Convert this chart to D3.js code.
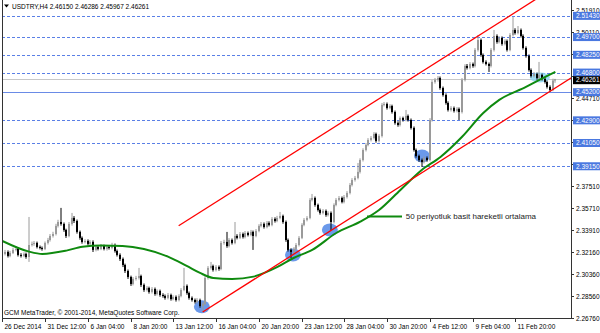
<!DOCTYPE html>
<html>
<head>
<meta charset="utf-8">
<script src="https://cdn.jsdelivr.net/npm/d3@7"></script>
<style>
body { margin: 0; background: #fff; }
svg { display: block; font-family: "Liberation Sans", Arial, sans-serif; }
</style>
</head>
<body>
<div id="chart"></div>
<script>
// USDTRY H4 candles (one bar = 4 hours)
var opens = [
  2.3207, 2.3199, 2.3215, 2.3183, 2.3207, 2.3232, 2.3240, 2.3191, 2.3183, 2.3199,
  2.3174, 2.3272, 2.3281, 2.3289, 2.3256, 2.3248, 2.3240, 2.3289, 2.3313, 2.3346,
  2.3362, 2.3428, 2.3460, 2.3444, 2.3395, 2.3346, 2.3444, 2.3493, 2.3468, 2.3379,
  2.3330, 2.3297, 2.3305, 2.3281, 2.3297, 2.3232, 2.3256, 2.3240, 2.3264, 2.3240,
  2.3256, 2.3248, 2.3272, 2.3223, 2.3191, 2.3158, 2.3109, 2.3060, 2.3011, 2.2954,
  2.2995, 2.3003, 2.3019, 2.2946, 2.2905, 2.2921, 2.2889, 2.2913, 2.2872, 2.2897,
  2.2864, 2.2856, 2.2840, 2.2864, 2.2831, 2.2848, 2.2823, 2.2856, 2.2905, 2.2938,
  2.2880, 2.2840, 2.2823, 2.2807, 2.2823, 2.2774, 2.2791, 2.3003, 2.3085, 2.3101,
  2.3068, 2.3093, 2.3076, 2.3289, 2.3297, 2.3264, 2.3313, 2.3289, 2.3346, 2.3330,
  2.3362, 2.3338, 2.3370, 2.3354, 2.3379, 2.3346, 2.3387, 2.3428, 2.3444, 2.3419,
  2.3452, 2.3436, 2.3485, 2.3468, 2.3493, 2.3509, 2.3460, 2.3313, 2.3232, 2.3215,
  2.3240, 2.3272, 2.3330, 2.3436, 2.3477, 2.3493, 2.3640, 2.3656, 2.3599, 2.3558,
  2.3534, 2.3550, 2.3517, 2.3534, 2.3460, 2.3599, 2.3640, 2.3656, 2.3624, 2.3664,
  2.3697, 2.3762, 2.3803, 2.3820, 2.3869, 2.3966, 2.4048, 2.4089, 2.4130, 2.4146,
  2.4179, 2.4122, 2.4162, 2.4416, 2.4424, 2.4391, 2.4407, 2.4358, 2.4269, 2.4252,
  2.4309, 2.4293, 2.4326, 2.4293, 2.4228, 2.4048, 2.3999, 2.3966, 2.3950, 2.3983,
  2.3966, 2.4293, 2.4603, 2.4620, 2.4636, 2.4554, 2.4497, 2.4432, 2.4375, 2.4391,
  2.4367, 2.4383, 2.4358, 2.4620, 2.4734, 2.4718, 2.4750, 2.4734, 2.4865, 2.4946,
  2.4824, 2.4767, 2.4750, 2.4734, 2.4865, 2.4979, 2.4930, 2.4963, 2.4914, 2.4938,
  2.4865, 2.4987, 2.5028, 2.5003, 2.5028, 2.4979, 2.4881, 2.4816, 2.4701, 2.4652,
  2.4669, 2.4636, 2.4661, 2.4628, 2.4603, 2.4563, 2.4538, 2.46150
];
var highs = [
  2.3225, 2.3232, 2.3228, 2.3224, 2.3250, 2.3262, 2.3251, 2.3205, 2.3212, 2.3210,
  2.3501, 2.3300, 2.3305, 2.3300, 2.3268, 2.3260, 2.3301, 2.3330, 2.3362, 2.3380,
  2.3445, 2.3478, 2.3575, 2.3456, 2.3405, 2.3460, 2.3534, 2.3508, 2.3480, 2.3390,
  2.3342, 2.3320, 2.3318, 2.3312, 2.3310, 2.3270, 2.3268, 2.3280, 2.3275, 2.3270,
  2.3268, 2.3290, 2.3284, 2.3235, 2.3204, 2.3170, 2.3120, 2.3072, 2.3022, 2.3010,
  2.3020, 2.3085, 2.3030, 2.2958, 2.2936, 2.2932, 2.2928, 2.2925, 2.2910, 2.2908,
  2.2878, 2.2868, 2.2880, 2.2875, 2.2862, 2.2860, 2.2870, 2.2920, 2.3085, 2.2950,
  2.2892, 2.2852, 2.2835, 2.2838, 2.2834, 2.2805, 2.3018, 2.3100, 2.3134, 2.3112,
  2.3108, 2.3105, 2.3305, 2.3315, 2.3379, 2.3328, 2.3325, 2.3460, 2.3360, 2.3378,
  2.3374, 2.3386, 2.3382, 2.3395, 2.3390, 2.3402, 2.3442, 2.3460, 2.3456, 2.3468,
  2.3465, 2.3500, 2.3498, 2.3510, 2.3542, 2.3520, 2.3472, 2.3325, 2.3245, 2.3255,
  2.3288, 2.3345, 2.3450, 2.3492, 2.3508, 2.3655, 2.3689, 2.3668, 2.3610, 2.3570,
  2.3565, 2.3562, 2.3548, 2.3546, 2.3612, 2.3655, 2.3672, 2.3668, 2.3680, 2.3712,
  2.3778, 2.3818, 2.3836, 2.3942, 2.3980, 2.4062, 2.4104, 2.4145, 2.4162, 2.4194,
  2.4190, 2.4176, 2.4432, 2.4440, 2.4436, 2.4422, 2.4418, 2.4370, 2.4282, 2.4322,
  2.4320, 2.4375, 2.4338, 2.4305, 2.4240, 2.4060, 2.4010, 2.3978, 2.3996, 2.3995,
  2.4308, 2.4618, 2.4636, 2.4652, 2.4648, 2.4566, 2.4510, 2.4445, 2.4406, 2.4403,
  2.4398, 2.4395, 2.4635, 2.4748, 2.4750, 2.4765, 2.4762, 2.4880, 2.4987, 2.4958,
  2.4836, 2.4780, 2.4762, 2.4880, 2.5028, 2.4992, 2.4978, 2.4975, 2.4952, 2.4950,
  2.5002, 2.5134, 2.5042, 2.5060, 2.5040, 2.4992, 2.4894, 2.4828, 2.4714, 2.4684,
  2.4680, 2.4767, 2.4672, 2.4640, 2.4615, 2.4576, 2.4630, 2.46286
];
var lows = [
  2.3183, 2.3187, 2.3170, 2.3172, 2.3198, 2.3220, 2.3178, 2.3170, 2.3172, 2.3160,
  2.3134, 2.3260, 2.3266, 2.3244, 2.3236, 2.3226, 2.3230, 2.3276, 2.3300, 2.3333,
  2.3350, 2.3415, 2.3430, 2.3380, 2.3330, 2.3335, 2.3430, 2.3452, 2.3365, 2.3315,
  2.3283, 2.3285, 2.3268, 2.3270, 2.3215, 2.3220, 2.3228, 2.3230, 2.3228, 2.3226,
  2.3235, 2.3236, 2.3210, 2.3178, 2.3142, 2.3092, 2.3044, 2.2995, 2.2938, 2.2942,
  2.2982, 2.2990, 2.2930, 2.2890, 2.2892, 2.2875, 2.2876, 2.2858, 2.2860, 2.2850,
  2.2842, 2.2826, 2.2828, 2.2818, 2.2820, 2.2810, 2.2812, 2.2845, 2.2895, 2.2866,
  2.2826, 2.2810, 2.2794, 2.2796, 2.2760, 2.2725, 2.2780, 2.2990, 2.3072, 2.3055,
  2.3056, 2.3062, 2.3066, 2.3275, 2.3250, 2.3252, 2.3276, 2.3278, 2.3318, 2.3320,
  2.3325, 2.3326, 2.3342, 2.3343, 2.3232, 2.3335, 2.3376, 2.3416, 2.3406, 2.3408,
  2.3424, 2.3425, 2.3455, 2.3458, 2.3482, 2.3446, 2.3298, 2.3218, 2.3166, 2.3200,
  2.3228, 2.3260, 2.3320, 2.3425, 2.3465, 2.3482, 2.3628, 2.3585, 2.3545, 2.3520,
  2.3522, 2.3503, 2.3505, 2.3395, 2.3448, 2.3588, 2.3628, 2.3612, 2.3612, 2.3652,
  2.3685, 2.3750, 2.3790, 2.3808, 2.3856, 2.3954, 2.4036, 2.4078, 2.4118, 2.4134,
  2.4108, 2.4110, 2.4150, 2.4404, 2.4378, 2.4380, 2.4345, 2.4255, 2.4238, 2.4240,
  2.4280, 2.4282, 2.4280, 2.4215, 2.4035, 2.3985, 2.3952, 2.3909, 2.3938, 2.3952,
  2.3955, 2.4280, 2.4590, 2.4606, 2.4540, 2.4484, 2.4418, 2.4362, 2.4362, 2.4354,
  2.4355, 2.4293, 2.4346, 2.4608, 2.4705, 2.4706, 2.4720, 2.4722, 2.4852, 2.4810,
  2.4754, 2.4738, 2.4685, 2.4722, 2.4852, 2.4916, 2.4918, 2.4900, 2.4902, 2.4852,
  2.4854, 2.4975, 2.4990, 2.4992, 2.4966, 2.4868, 2.4802, 2.4688, 2.4640, 2.4640,
  2.4622, 2.4625, 2.4615, 2.4590, 2.4550, 2.4522, 2.4528, 2.45967
];
var closes = [
  2.3199, 2.3215, 2.3183, 2.3207, 2.3232, 2.3240, 2.3191, 2.3183, 2.3199, 2.3174,
  2.3272, 2.3281, 2.3289, 2.3256, 2.3248, 2.3240, 2.3289, 2.3313, 2.3346, 2.3362,
  2.3428, 2.3460, 2.3444, 2.3395, 2.3346, 2.3444, 2.3493, 2.3468, 2.3379, 2.3330,
  2.3297, 2.3305, 2.3281, 2.3297, 2.3232, 2.3256, 2.3240, 2.3264, 2.3240, 2.3256,
  2.3248, 2.3272, 2.3223, 2.3191, 2.3158, 2.3109, 2.3060, 2.3011, 2.2954, 2.2995,
  2.3003, 2.3019, 2.2946, 2.2905, 2.2921, 2.2889, 2.2913, 2.2872, 2.2897, 2.2864,
  2.2856, 2.2840, 2.2864, 2.2831, 2.2848, 2.2823, 2.2856, 2.2905, 2.2938, 2.2880,
  2.2840, 2.2823, 2.2807, 2.2823, 2.2774, 2.2791, 2.3003, 2.3085, 2.3101, 2.3068,
  2.3093, 2.3076, 2.3289, 2.3297, 2.3264, 2.3313, 2.3289, 2.3346, 2.3330, 2.3362,
  2.3338, 2.3370, 2.3354, 2.3379, 2.3346, 2.3387, 2.3428, 2.3444, 2.3419, 2.3452,
  2.3436, 2.3485, 2.3468, 2.3493, 2.3509, 2.3460, 2.3313, 2.3232, 2.3215, 2.3240,
  2.3272, 2.3330, 2.3436, 2.3477, 2.3493, 2.3640, 2.3656, 2.3599, 2.3558, 2.3534,
  2.3550, 2.3517, 2.3534, 2.3460, 2.3599, 2.3640, 2.3656, 2.3624, 2.3664, 2.3697,
  2.3762, 2.3803, 2.3820, 2.3869, 2.3966, 2.4048, 2.4089, 2.4130, 2.4146, 2.4179,
  2.4122, 2.4162, 2.4416, 2.4424, 2.4391, 2.4407, 2.4358, 2.4269, 2.4252, 2.4309,
  2.4293, 2.4326, 2.4293, 2.4228, 2.4048, 2.3999, 2.3966, 2.3950, 2.3983, 2.3966,
  2.4293, 2.4603, 2.4620, 2.4636, 2.4554, 2.4497, 2.4432, 2.4375, 2.4391, 2.4367,
  2.4383, 2.4358, 2.4620, 2.4734, 2.4718, 2.4750, 2.4734, 2.4865, 2.4946, 2.4824,
  2.4767, 2.4750, 2.4734, 2.4865, 2.4979, 2.4930, 2.4963, 2.4914, 2.4938, 2.4865,
  2.4987, 2.5028, 2.5003, 2.5028, 2.4979, 2.4881, 2.4816, 2.4701, 2.4652, 2.4669,
  2.4636, 2.4661, 2.4628, 2.4603, 2.4563, 2.4538, 2.46150, 2.46261
];

// time axis labels, one every 16 bars
var timeLabels = ["26 Dec 2014", "31 Dec 12:00", "6 Jan 04:00", "8 Jan 20:00", "13 Jan 12:00",
  "16 Jan 04:00", "20 Jan 20:00", "23 Jan 12:00", "28 Jan 04:00", "30 Jan 20:00",
  "4 Feb 12:00", "9 Feb 04:00", "11 Feb 20:00"];
var priceTicks = [2.51910, 2.50110, 2.48310, 2.46510, 2.44710, 2.42910, 2.41110, 2.39310,
  2.37510, 2.35710, 2.33910, 2.32160, 2.30360, 2.28560, 2.26760];

// horizontal levels drawn on the chart
var dashedLevels = [2.51430, 2.49700, 2.48250, 2.46800, 2.42900, 2.41050, 2.39150];
var solidLevel = 2.45200;
var bidPrice = 2.46261;

// 50 period simple moving average (sampled from the green line)
var maBars = [0, 10, 15, 24, 30, 37, 45, 53, 62, 69, 74, 79, 86, 94, 103, 109, 116, 125,
  134, 141, 149, 157, 164, 172, 180, 186, 196, 201, 207];
var maValues = [2.3305, 2.3218, 2.3199, 2.3226, 2.3258, 2.3267, 2.3264, 2.3240, 2.3177,
  2.3101, 2.3044, 2.3003, 2.2995, 2.3014, 2.3093, 2.3166, 2.3232, 2.3370, 2.3463, 2.3558,
  2.3722, 2.3885, 2.3991, 2.4154, 2.4350, 2.4457, 2.4563, 2.4620, 2.4685];

// channel trend lines [bar, price]
var upperLine = [[66, 2.3429], [212, 2.5449]];
var lowerLine = [[75, 2.2725], [213, 2.4638]];

// touch points marked with blue ellipses [bar, price]
var touches = [[74.7, 2.2768], [108.8, 2.3191], [122.6, 2.3395], [157.1, 2.3999]];
var lastTouch = [201.2, 2.4640];

var svgWidth = 600;
var svgHeight = 333;
var plotLeft = 2, plotRight = 571, plotTop = 0, plotBottom = 318;

var svg = d3.select("#chart")
  .append("svg")
  .attr("width", svgWidth)
  .attr("height", svgHeight);

svg.append("rect").attr("width", svgWidth).attr("height", svgHeight).attr("fill", "#fff");

var x = d3.scaleLinear().domain([0, 213]).range([2.3, 571.4]);
var y = d3.scaleLinear().domain([2.26760, 2.51910]).range([318, 10]);

svg.append("clipPath").attr("id", "plot")
  .append("rect")
  .attr("x", plotLeft).attr("y", plotTop)
  .attr("width", plotRight - plotLeft).attr("height", plotBottom - plotTop);

var plot = svg.append("g").attr("clip-path", "url(#plot)");

// level lines
plot.selectAll(".lvl")
  .data(dashedLevels)
  .enter()
  .append("line")
  .attr("x1", plotLeft).attr("x2", plotRight)
  .attr("y1", d => Math.round(y(d)) + 0.5).attr("y2", d => Math.round(y(d)) + 0.5)
  .attr("stroke", "#5a7fe6")
  .attr("stroke-dasharray", "3,2");

plot.append("line")
  .attr("x1", plotLeft).attr("x2", plotRight)
  .attr("y1", Math.round(y(solidLevel)) + 0.5).attr("y2", Math.round(y(solidLevel)) + 0.5)
  .attr("stroke", "#6a8be6");

plot.append("line")
  .attr("x1", plotLeft).attr("x2", plotRight)
  .attr("y1", Math.round(y(bidPrice)) + 0.5).attr("y2", Math.round(y(bidPrice)) + 0.5)
  .attr("stroke", "#c8c8c8");

// touch ellipses
plot.selectAll(".touch")
  .data(touches)
  .enter()
  .append("ellipse")
  .attr("cx", d => x(d[0]))
  .attr("cy", d => y(d[1]))
  .attr("rx", 8)
  .attr("ry", 6.5)
  .attr("fill", "#5b8ee8")
  .attr("opacity", 0.9);

plot.append("ellipse")
  .attr("cx", x(lastTouch[0]))
  .attr("cy", y(lastTouch[1]))
  .attr("rx", 10)
  .attr("ry", 5)
  .attr("fill", "#8fd6f2")
  .attr("opacity", 0.85);

// candles
var candles = closes.map(function(c, i) {
  return {i: i, o: opens[i], h: highs[i], l: lows[i], c: c};
});

var candleGroup = plot.append("g");
candleGroup.selectAll(".wick")
  .data(candles)
  .enter()
  .append("line")
  .attr("x1", d => Math.round(x(d.i)))
  .attr("x2", d => Math.round(x(d.i)))
  .attr("y1", d => y(d.h))
  .attr("y2", d => y(d.l))
  .attr("stroke", d => d.c >= d.o ? "#9a9a9a" : "#000")
  .attr("stroke-width", 1);

candleGroup.selectAll(".body")
  .data(candles)
  .enter()
  .append("rect")
  .attr("x", d => Math.round(x(d.i)) - 1)
  .attr("width", 2)
  .attr("y", d => y(Math.max(d.o, d.c)))
  .attr("height", d => Math.max(1, Math.abs(y(d.o) - y(d.c))))
  .attr("fill", d => d.c >= d.o ? "#9a9a9a" : "#000");

// moving average
var maLine = d3.line()
  .x((d, i) => x(maBars[i]))
  .y(d => y(d))
  .curve(d3.curveMonotoneX);

plot.append("path")
  .datum(maValues)
  .attr("d", maLine)
  .attr("fill", "none")
  .attr("stroke", "#0f8a0f")
  .attr("stroke-width", 2);

// channel
var trend = d3.line().x(d => x(d[0])).y(d => y(d[1]));
[upperLine, lowerLine].forEach(function(l) {
  plot.append("path")
    .attr("d", trend(l))
    .attr("stroke", "#ff0000")
    .attr("stroke-width", 1.3)
    .attr("fill", "none");
});

// annotation for the MA
plot.append("line")
  .attr("x1", x(136.5)).attr("x2", x(149.6))
  .attr("y1", y(2.3505)).attr("y2", y(2.3505))
  .attr("stroke", "#0f8a0f")
  .attr("stroke-width", 2);
plot.append("text")
  .attr("x", x(151))
  .attr("y", y(2.3505))
  .attr("dy", "0.35em")
  .attr("font-size", "8px")
  .attr("fill", "#222")
  .text("50 periyotluk basit hareketli ortalama");

// header and copyright
svg.append("path")
  .attr("d", "M4,4.5 L9,4.5 L6.5,7.5 Z")
  .attr("fill", "#000");
var f5 = d3.format(".5f");
var last = closes.length - 1;
svg.append("text")
  .attr("x", 12).attr("y", 8.5)
  .attr("font-size", "6.5px")
  .attr("fill", "#000")
  .text("USDTRY,H4  " + f5(opens[last]) + " " + f5(highs[last]) + " " + f5(lows[last]) + " " + f5(closes[last]));

svg.append("text")
  .attr("x", 4).attr("y", 314.5)
  .attr("font-size", "6.5px")
  .attr("fill", "#000")
  .text("GCM MetaTrader, \u00a9 2001-2014, MetaQuotes Software Corp.");

// frame
svg.append("line").attr("x1", plotLeft + 0.5).attr("x2", plotLeft + 0.5)
  .attr("y1", 0).attr("y2", plotBottom + 0.5).attr("stroke", "#333");
svg.append("line").attr("x1", plotRight + 0.5).attr("x2", plotRight + 0.5)
  .attr("y1", 0).attr("y2", plotBottom + 0.5).attr("stroke", "#333");
svg.append("line").attr("x1", plotLeft).attr("x2", plotRight + 1)
  .attr("y1", plotBottom + 0.5).attr("y2", plotBottom + 0.5).attr("stroke", "#333");

// time axis
var timeG = svg.append("g");
timeLabels.forEach(function(t, k) {
  var tx = Math.round(x(k * 16)) + 0.5;
  timeG.append("line")
    .attr("x1", tx).attr("x2", tx)
    .attr("y1", plotBottom).attr("y2", plotBottom + 4)
    .attr("stroke", "#333");
  timeG.append("text")
    .attr("x", tx + 2).attr("y", 329)
    .attr("font-size", "6.5px")
    .attr("fill", "#000")
    .text(t);
});

// price axis: skip labels that sit fully under a level box
var boxed = dashedLevels.concat([solidLevel, bidPrice]);
var priceG = svg.append("g");
priceTicks.forEach(function(p) {
  var ty = Math.round(y(p)) + 0.5;
  priceG.append("line")
    .attr("x1", plotRight).attr("x2", plotRight + 3)
    .attr("y1", ty).attr("y2", ty)
    .attr("stroke", "#333");
  var hidden = boxed.some(b => Math.abs(y(b) - y(p)) < 4.5);
  if (hidden) return;
  priceG.append("text")
    .attr("x", plotRight + 5).attr("y", ty)
    .attr("dy", "0.35em")
    .attr("font-size", "6.5px")
    .attr("fill", "#000")
    .text(f5(p));
});

// level labels
dashedLevels.concat([solidLevel]).forEach(function(p) {
  var ty = y(p);
  priceG.append("rect")
    .attr("x", plotRight + 2).attr("y", ty - 4)
    .attr("width", svgWidth - plotRight - 2).attr("height", 8)
    .attr("fill", "#4a78e0");
  priceG.append("text")
    .attr("x", plotRight + 5).attr("y", ty)
    .attr("dy", "0.35em")
    .attr("font-size", "6.5px")
    .attr("fill", "#fff")
    .text(f5(p));
});

priceG.append("rect")
  .attr("x", plotRight + 2).attr("y", y(bidPrice) - 3)
  .attr("width", svgWidth - plotRight - 2).attr("height", 8)
  .attr("fill", "#000");
priceG.append("text")
  .attr("x", plotRight + 5).attr("y", y(bidPrice) + 1)
  .attr("dy", "0.35em")
  .attr("font-size", "6.5px")
  .attr("fill", "#fff")
  .text(f5(bidPrice));
</script>
</body>
</html>
